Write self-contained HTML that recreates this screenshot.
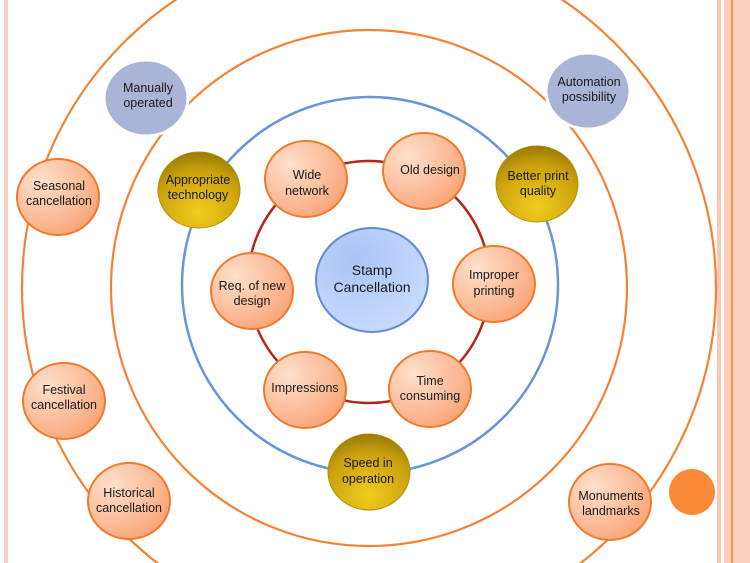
<!DOCTYPE html>
<html><head><meta charset="utf-8"><style>
html,body{margin:0;padding:0;background:#fff;width:750px;height:563px;overflow:hidden;}
svg{display:block;}
text{font-family:"Liberation Sans","DejaVu Sans",sans-serif;font-size:12.5px;fill:#1a1a1a;text-anchor:middle;}
</style></head><body>
<svg width="750" height="563" viewBox="0 0 750 563" xmlns="http://www.w3.org/2000/svg">
<defs>
<radialGradient id="og" cx="0.3" cy="0.3" r="0.9">
<stop offset="0" stop-color="#fde0cc"/><stop offset="0.6" stop-color="#fbb893"/><stop offset="1" stop-color="#f89a68"/></radialGradient>
<radialGradient id="bg" cx="0.35" cy="0.3" r="0.9">
<stop offset="0" stop-color="#a9c4f5"/><stop offset="1" stop-color="#cfe0ff"/></radialGradient>
<radialGradient id="gg" cx="0.5" cy="0.8" r="0.8">
<stop offset="0" stop-color="#f2cc1e"/><stop offset="0.7" stop-color="#c9a00c"/><stop offset="1" stop-color="#9a7a06"/></radialGradient>
</defs>
<rect x="4" y="0" width="4" height="563" fill="#fbd0c4"/>
<rect x="717" y="0" width="4" height="563" fill="#fbc8b6"/>
<rect x="724" y="0" width="26" height="563" fill="#fdd0bd"/>
<rect x="731" y="0" width="2" height="563" fill="#f8914e"/>
<g fill="none">
<circle cx="369" cy="288" r="347" stroke="#f58232" stroke-width="2.2"/>
<circle cx="369" cy="288" r="258" stroke="#f58232" stroke-width="2.2"/>
<circle cx="370" cy="285" r="188" stroke="#6b93d8" stroke-width="2.5"/>
<circle cx="369" cy="282" r="121" stroke="#b2271a" stroke-width="2.5"/>
</g>
<ellipse cx="372" cy="280" rx="56" ry="52" fill="url(#bg)" stroke="#5e8ad6" stroke-width="2"/>
<text x="372" y="275" style="font-size:14px">Stamp</text>
<text x="372" y="292" style="font-size:14px">Cancellation</text>
<g fill="url(#og)" stroke="#f07a2c" stroke-width="2">
<ellipse cx="306" cy="179" rx="41" ry="38"/>
<ellipse cx="424" cy="171" rx="41" ry="38"/>
<ellipse cx="494" cy="284" rx="41" ry="38"/>
<ellipse cx="430" cy="389" rx="41" ry="38"/>
<ellipse cx="305" cy="390" rx="41" ry="38"/>
<ellipse cx="252" cy="291" rx="41" ry="38"/>
<ellipse cx="58" cy="197" rx="41" ry="38"/>
<ellipse cx="64" cy="401" rx="41" ry="38"/>
<ellipse cx="129" cy="501" rx="41" ry="38"/>
<ellipse cx="610" cy="502" rx="41" ry="38"/>
</g>
<circle cx="692" cy="492" r="23" fill="#fb8a38"/>
<g fill="#a9b4d6" stroke="#fff" stroke-width="3">
<ellipse cx="146" cy="98" rx="42" ry="38"/>
<ellipse cx="588" cy="91" rx="42" ry="38"/>
</g>
<g fill="url(#gg)" stroke="#b88e08" stroke-width="1">
<ellipse cx="199" cy="190" rx="41" ry="38"/>
<ellipse cx="537" cy="184" rx="41" ry="38"/>
<ellipse cx="369" cy="472" rx="41" ry="38"/>
</g>
<text x="307" y="179">Wide</text><text x="307" y="195">network</text>
<text x="430" y="174">Old design</text>
<text x="494" y="279">Improper</text><text x="494" y="295">printing</text>
<text x="430" y="385">Time</text><text x="430" y="400">consuming</text>
<text x="305" y="392">Impressions</text>
<text x="252" y="290">Req. of new</text><text x="252" y="305">design</text>
<text x="59" y="190">Seasonal</text><text x="59" y="205">cancellation</text>
<text x="64" y="394">Festival</text><text x="64" y="409">cancellation</text>
<text x="129" y="497">Historical</text><text x="129" y="512">cancellation</text>
<text x="611" y="500">Monuments</text><text x="611" y="515">landmarks</text>
<text x="148" y="92">Manually</text><text x="148" y="107">operated</text>
<text x="589" y="86">Automation</text><text x="589" y="101">possibility</text>
<text x="198" y="184">Appropriate</text><text x="198" y="199">technology</text>
<text x="538" y="180">Better print</text><text x="538" y="195">quality</text>
<text x="368" y="467">Speed in</text><text x="368" y="483">operation</text>
</svg>
</body></html>
